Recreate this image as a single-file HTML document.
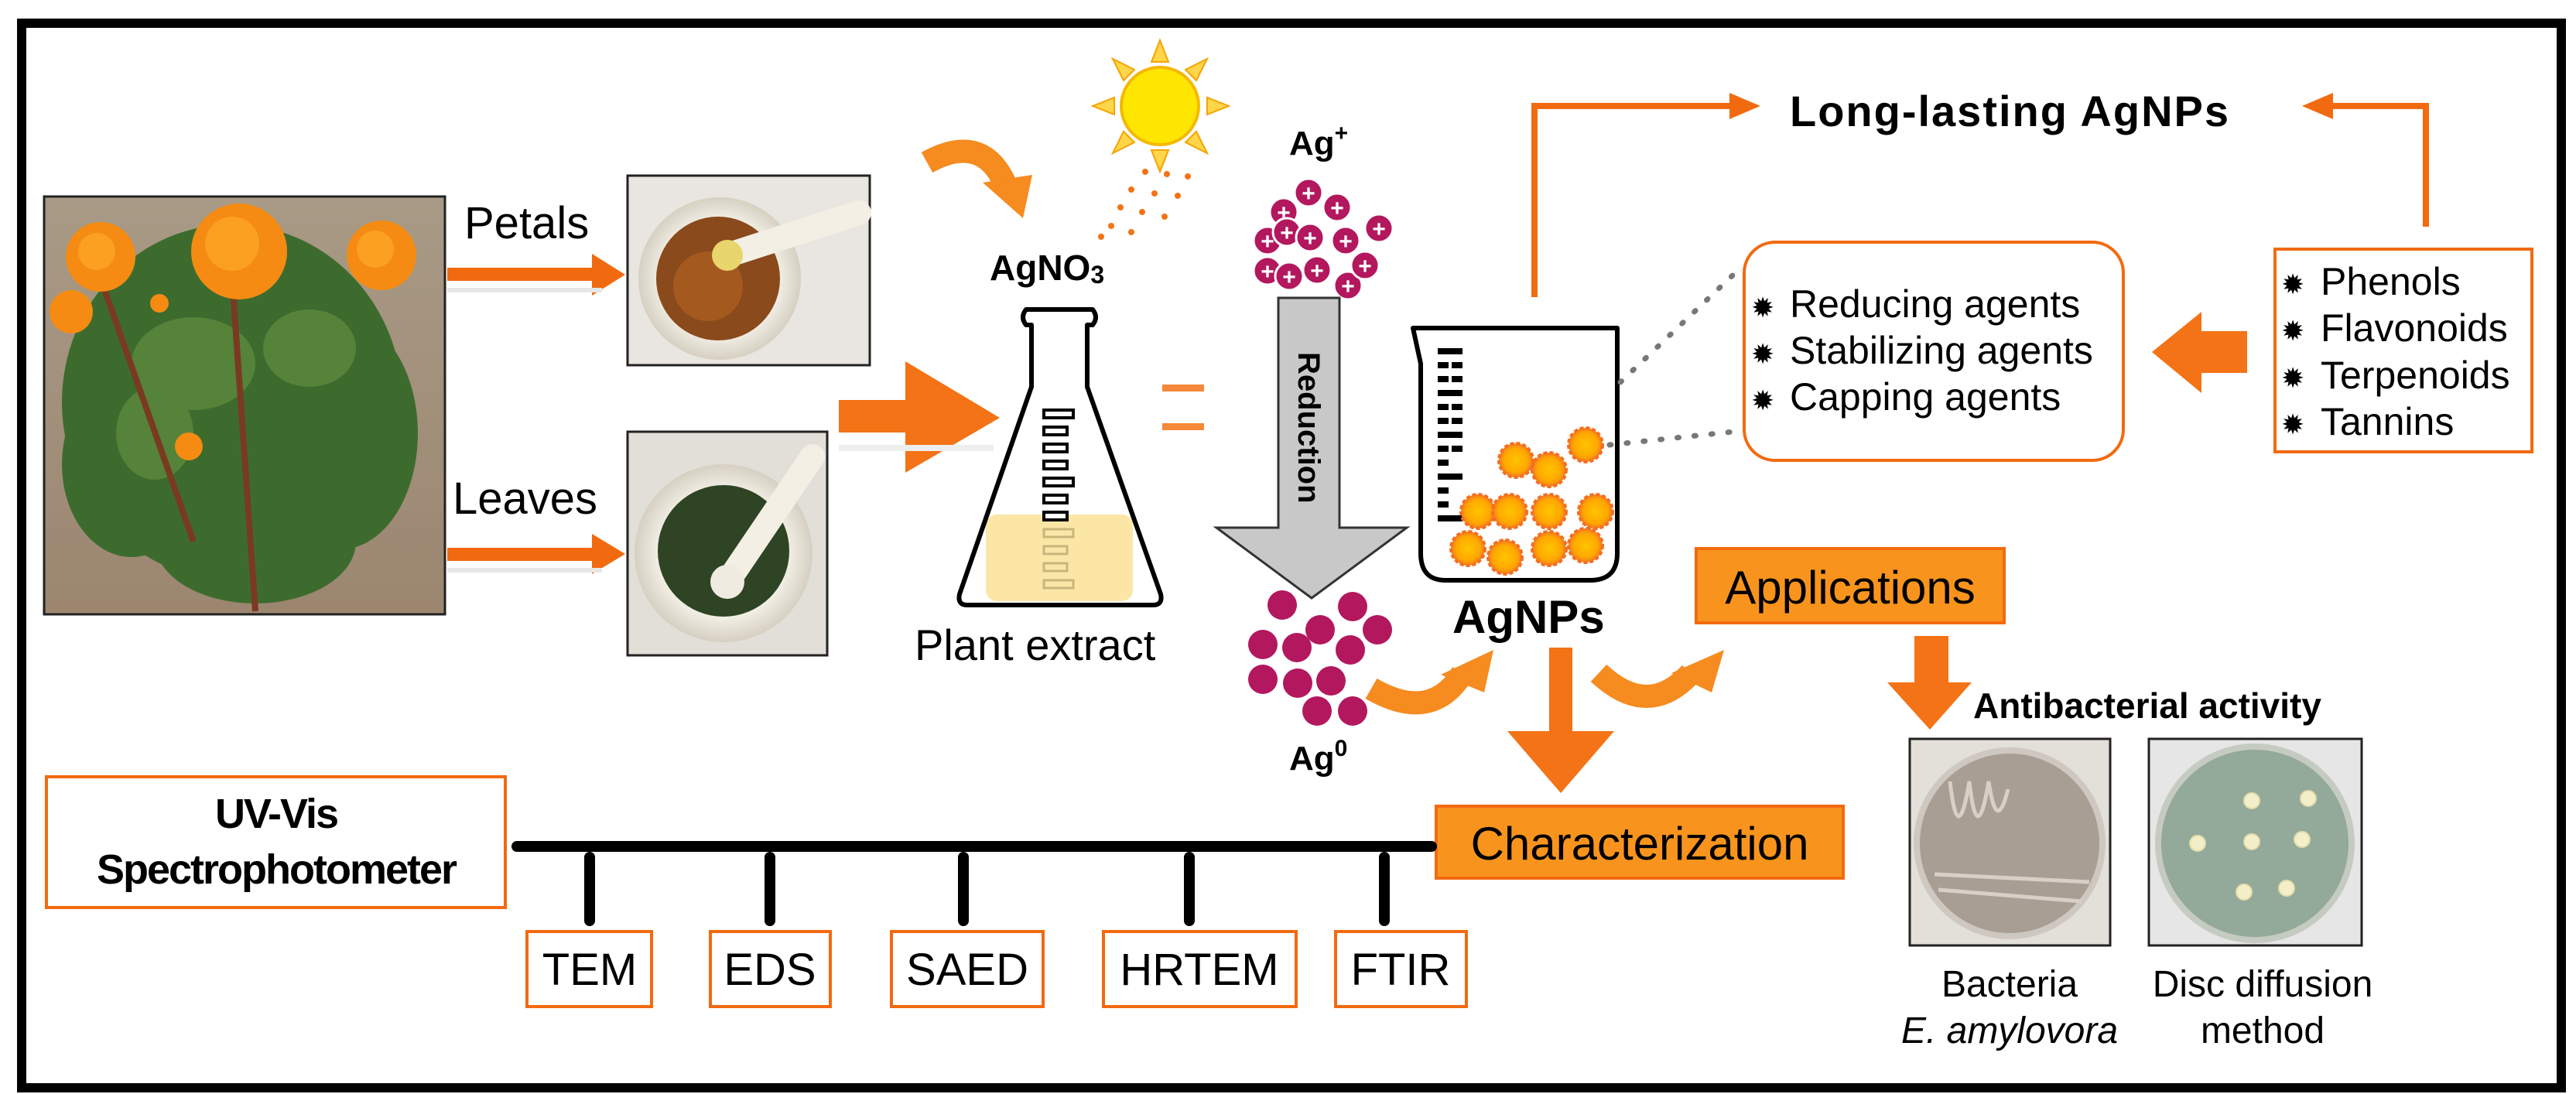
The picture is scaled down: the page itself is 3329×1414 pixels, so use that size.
<!DOCTYPE html>
<html><head><meta charset="utf-8"><style>
html,body{margin:0;padding:0;background:#fff;}
svg{display:block;}
text{font-family:"Liberation Sans",sans-serif;}
</style></head><body>
<svg width="3329" height="1414" viewBox="0 0 3329 1414" xmlns="http://www.w3.org/2000/svg">
<defs>
<radialGradient id="np" cx="50%" cy="50%" r="50%"><stop offset="0" stop-color="#ffc400"/><stop offset="0.7" stop-color="#ffa800"/><stop offset="1" stop-color="#f47a20"/></radialGradient>
<radialGradient id="bowl" cx="50%" cy="50%" r="50%"><stop offset="0.7" stop-color="#f4f1e8"/><stop offset="1" stop-color="#d6d0c2"/></radialGradient>
<linearGradient id="sand" x1="0" y1="0" x2="0" y2="1"><stop offset="0" stop-color="#a89a86"/><stop offset="1" stop-color="#9c8670"/></linearGradient>
</defs>
<rect x="28" y="30" width="3282" height="1376" fill="#fff" stroke="#000" stroke-width="12"/>

<!-- plant photo -->
<rect x="57" y="254" width="518" height="540" fill="url(#sand)" stroke="#222" stroke-width="3"/>
<g fill="#3d6b2e">
<ellipse cx="300" cy="520" rx="220" ry="230"/>
<ellipse cx="170" cy="600" rx="90" ry="120"/>
<ellipse cx="440" cy="560" rx="100" ry="150"/>
<ellipse cx="330" cy="700" rx="130" ry="80"/>
</g>
<g fill="#5c8a3c" opacity="0.8"><ellipse cx="250" cy="470" rx="80" ry="60"/><ellipse cx="400" cy="450" rx="60" ry="50"/><ellipse cx="200" cy="560" rx="50" ry="60"/></g>
<g stroke="#7a3a22" stroke-width="8"><line x1="300" y1="360" x2="330" y2="790"/><line x1="130" y1="360" x2="250" y2="700"/></g>
<g fill="#f58b12"><circle cx="309" cy="325" r="62"/><circle cx="130" cy="332" r="45"/><circle cx="493" cy="330" r="45"/><circle cx="92" cy="403" r="28"/><circle cx="244" cy="577" r="18"/><circle cx="206" cy="392" r="12"/></g>
<g fill="#fba020"><circle cx="300" cy="315" r="35"/><circle cx="485" cy="322" r="24"/><circle cx="125" cy="325" r="24"/></g>

<!-- Petals/Leaves -->
<text x="600" y="308" font-size="58">Petals</text>
<text x="585" y="664" font-size="58">Leaves</text>
<rect x="578" y="346" width="190" height="17" fill="#f26a10"/>
<polygon points="765,328 808,355 765,382" fill="#f26a10"/>
<rect x="578" y="708" width="190" height="17" fill="#f26a10"/>
<polygon points="765,690 808,716 765,742" fill="#f26a10"/>
<rect x="578" y="372" width="200" height="6" fill="#e6e6e6"/>
<rect x="578" y="734" width="200" height="6" fill="#e6e6e6"/>

<!-- mortar photos -->
<rect x="811" y="227" width="313" height="245" fill="#e9e6e1" stroke="#222" stroke-width="3"/>
<circle cx="930" cy="360" r="105" fill="url(#bowl)"/>
<circle cx="928" cy="360" r="80" fill="#8a4a1c"/>
<circle cx="915" cy="370" r="45" fill="#b5661f" opacity="0.6"/>
<line x1="940" y1="330" x2="1110" y2="275" stroke="#f3efe4" stroke-width="32" stroke-linecap="round"/>
<circle cx="940" cy="330" r="20" fill="#e8d56c"/>
<rect x="811" y="558" width="258" height="289" fill="#e2dfd8" stroke="#222" stroke-width="3"/>
<circle cx="935" cy="715" r="115" fill="url(#bowl)"/>
<circle cx="935" cy="712" r="85" fill="#2e4424"/>
<line x1="945" y1="745" x2="1050" y2="590" stroke="#f3efe4" stroke-width="32" stroke-linecap="round"/>
<circle cx="940" cy="752" r="22" fill="#efebe0"/>

<!-- big arrow -->
<rect x="1084" y="517" width="90" height="42" fill="#f47316"/>
<polygon points="1170,467 1292,540 1170,611" fill="#f47316"/>
<rect x="1084" y="575" width="200" height="8" fill="#eeeeee"/>

<!-- sun -->
<g fill="#ffd54a" stroke="#f5a400" stroke-width="2">
<polygon points="1499,52 1488,80 1510,80"/><polygon points="1499,222 1488,194 1510,194"/>
<polygon points="1412,137 1440,126 1440,148"/><polygon points="1588,137 1560,126 1560,148"/>
<polygon points="1438,76 1452,104 1466,90"/><polygon points="1560,76 1532,90 1546,104"/>
<polygon points="1438,198 1466,184 1452,170"/><polygon points="1560,198 1546,170 1532,184"/>
</g>
<circle cx="1499" cy="137" r="50" fill="#ffe600" stroke="#f5b800" stroke-width="4"/>
<g fill="#f47316">
<circle cx="1480" cy="222" r="4"/><circle cx="1508" cy="225" r="4"/><circle cx="1535" cy="228" r="4"/>
<circle cx="1462" cy="245" r="4"/><circle cx="1492" cy="250" r="4"/><circle cx="1522" cy="253" r="4"/>
<circle cx="1448" cy="268" r="4"/><circle cx="1476" cy="274" r="4"/><circle cx="1505" cy="280" r="4"/>
<circle cx="1436" cy="292" r="4"/><circle cx="1462" cy="300" r="4"/><circle cx="1423" cy="306" r="4"/>
</g>
<!-- curved arrow top -->
<path d="M1198,210 Q1270,170 1300,240" fill="none" stroke="#f68b1f" stroke-width="30"/>
<polygon points="1270,236 1334,226 1322,282" fill="#f68b1f"/>

<!-- flask -->
<text x="1279" y="362" font-size="46" font-weight="bold">AgNO<tspan font-size="32" dy="4">3</tspan></text>
<rect x="1274" y="665" width="190" height="112" rx="14" fill="#fbe6a6"/>
<path d="M1333,420 L1326,420 Q1318,410 1326,400 L1412,400 Q1420,410 1412,420 L1405,420 L1405,500 L1500,768 Q1503,782 1490,782 L1250,782 Q1237,782 1240,768 L1333,500 Z" fill="none" stroke="#000" stroke-width="6" stroke-linejoin="round"/>
<g fill="#fff" stroke="#000" stroke-width="4">
<rect x="1349" y="530" width="38" height="10"/><rect x="1349" y="552" width="30" height="10"/><rect x="1349" y="574" width="30" height="10"/><rect x="1349" y="596" width="30" height="10"/><rect x="1349" y="618" width="38" height="10"/><rect x="1349" y="640" width="30" height="10"/><rect x="1349" y="662" width="30" height="10"/>
</g>
<g fill="none" stroke="#c8b67a" stroke-width="3">
<rect x="1349" y="684" width="38" height="10"/><rect x="1349" y="706" width="30" height="10"/><rect x="1349" y="728" width="30" height="10"/><rect x="1349" y="750" width="38" height="10"/>
</g>
<text x="1182" y="853" font-size="56">Plant extract</text>
<rect x="1502" y="497" width="54" height="9" fill="#f47316" opacity="0.85"/>
<rect x="1502" y="547" width="54" height="9" fill="#f47316" opacity="0.85"/>

<!-- Ag+ -->
<text x="1666" y="200" font-size="44" font-weight="bold">Ag<tspan font-size="30" dy="-18">+</tspan></text>
<g fill="#b3175e" stroke="#fff" stroke-width="3">
<circle cx="1638" cy="311" r="18"/><circle cx="1659" cy="274" r="18"/><circle cx="1638" cy="350" r="18"/><circle cx="1691" cy="249" r="18"/><circle cx="1728" cy="268" r="18"/><circle cx="1663" cy="300" r="18"/><circle cx="1693" cy="307" r="18"/><circle cx="1739" cy="311" r="18"/><circle cx="1782" cy="295" r="18"/><circle cx="1666" cy="357" r="18"/><circle cx="1702" cy="349" r="18"/><circle cx="1742" cy="369" r="18"/><circle cx="1764" cy="343" r="18"/>
</g>
<g font-size="30" font-weight="bold" fill="#fff" text-anchor="middle">
<text x="1638" y="322">+</text><text x="1659" y="285">+</text><text x="1638" y="361">+</text><text x="1691" y="260">+</text><text x="1728" y="279">+</text><text x="1663" y="311">+</text><text x="1693" y="318">+</text><text x="1739" y="322">+</text><text x="1782" y="306">+</text><text x="1666" y="368">+</text><text x="1702" y="360">+</text><text x="1742" y="380">+</text><text x="1764" y="354">+</text>
</g>
<!-- reduction arrow -->
<path d="M1652,385 L1731,385 L1731,682 L1818,682 L1695,773 L1572,682 L1652,682 Z" fill="#c8c8c8" stroke="#333" stroke-width="3"/>
<text transform="translate(1678,455) rotate(90)" font-size="40" font-weight="bold">Reduction</text>
<!-- Ag0 -->
<g fill="#b3175e">
<circle cx="1657" cy="782" r="19"/><circle cx="1748" cy="784" r="19"/><circle cx="1706" cy="814" r="19"/><circle cx="1780" cy="814" r="19"/><circle cx="1632" cy="833" r="19"/><circle cx="1676" cy="837" r="19"/><circle cx="1745" cy="840" r="19"/><circle cx="1632" cy="878" r="19"/><circle cx="1677" cy="883" r="19"/><circle cx="1720" cy="880" r="19"/><circle cx="1702" cy="919" r="19"/><circle cx="1748" cy="919" r="19"/>
</g>
<text x="1666" y="995" font-size="44" font-weight="bold">Ag<tspan font-size="30" dy="-18">0</tspan></text>

<!-- beaker -->
<path d="M1826,424 L2090,424 L2090,715 Q2090,750 2055,750 L1868,750 Q1836,750 1836,715 L1836,470 Z" fill="#fff" stroke="#000" stroke-width="6" stroke-linejoin="round"/>
<g fill="#000">
<rect x="1858" y="450" width="32" height="8"/><rect x="1858" y="468" width="14" height="8"/><rect x="1876" y="468" width="14" height="8"/><rect x="1858" y="486" width="14" height="8"/><rect x="1876" y="486" width="14" height="8"/><rect x="1858" y="504" width="32" height="8"/><rect x="1858" y="522" width="14" height="8"/><rect x="1876" y="522" width="14" height="8"/><rect x="1858" y="540" width="14" height="8"/><rect x="1876" y="540" width="14" height="8"/><rect x="1858" y="558" width="32" height="8"/><rect x="1858" y="576" width="14" height="8"/><rect x="1876" y="576" width="14" height="8"/><rect x="1858" y="594" width="14" height="8"/><rect x="1858" y="612" width="32" height="8"/><rect x="1858" y="630" width="14" height="8"/><rect x="1858" y="648" width="14" height="8"/><rect x="1858" y="666" width="32" height="8"/>
</g>
<g fill="url(#np)" stroke="#f36f21" stroke-width="4" stroke-dasharray="5 3">
<circle cx="2049" cy="575" r="22"/><circle cx="1959" cy="595" r="22"/><circle cx="2002" cy="607" r="22"/><circle cx="1910" cy="661" r="22"/><circle cx="1951" cy="661" r="22"/><circle cx="2002" cy="661" r="22"/><circle cx="2062" cy="661" r="22"/><circle cx="1897" cy="709" r="22"/><circle cx="1945" cy="720" r="22"/><circle cx="2002" cy="709" r="22"/><circle cx="2049" cy="705" r="22"/>
</g>
<text x="1877" y="818" font-size="60" font-weight="bold">AgNPs</text>

<!-- dotted lines -->
<line x1="2094" y1="494" x2="2240" y2="355" stroke="#777" stroke-width="7" stroke-dasharray="2 20" stroke-linecap="round"/>
<line x1="2080" y1="575" x2="2240" y2="558" stroke="#777" stroke-width="7" stroke-dasharray="2 20" stroke-linecap="round"/>

<!-- long lasting -->
<polyline points="1983,384 1983,137 2240,137" fill="none" stroke="#f26a10" stroke-width="8"/>
<polygon points="2235,120 2275,137 2235,154" fill="#f26a10"/>
<text x="2313" y="163" font-size="56" font-weight="bold" letter-spacing="2">Long-lasting AgNPs</text>
<polyline points="3135,293 3135,137 3010,137" fill="none" stroke="#f26a10" stroke-width="8"/>
<polygon points="3015,120 2975,137 3015,154" fill="#f26a10"/>

<!-- agents box -->
<rect x="2254" y="313" width="490" height="282" rx="40" fill="#fff" stroke="#f26a10" stroke-width="4"/>
<g font-size="50"><text x="2263" y="410" font-size="36">✹</text><text x="2313" y="410">Reducing agents</text>
<text x="2263" y="470" font-size="36">✹</text><text x="2313" y="470">Stabilizing agents</text>
<text x="2263" y="530" font-size="36">✹</text><text x="2313" y="530">Capping agents</text></g>
<polygon points="2904,428 2845,428 2845,403 2781,455 2845,508 2845,482 2904,482" fill="#f47316"/>
<!-- phenols box -->
<rect x="2940" y="322" width="332" height="262" fill="#fff" stroke="#f26a10" stroke-width="4"/>
<g font-size="50"><text x="2948" y="380" font-size="36">✹</text><text x="2999" y="381">Phenols</text>
<text x="2948" y="440" font-size="36">✹</text><text x="2999" y="441">Flavonoids</text>
<text x="2948" y="501" font-size="36">✹</text><text x="2999" y="502">Terpenoids</text>
<text x="2948" y="561" font-size="36">✹</text><text x="2999" y="562">Tannins</text></g>

<!-- applications -->
<rect x="2192" y="709" width="398" height="96" fill="#f8941d" stroke="#f26a10" stroke-width="4"/>
<text x="2391" y="780" font-size="60" text-anchor="middle">Applications</text>
<rect x="1856" y="1042" width="526" height="93" fill="#f8941d" stroke="#f26a10" stroke-width="4"/>
<text x="2119" y="1111" font-size="60" text-anchor="middle">Characterization</text>

<!-- curved arrows -->
<path d="M1772,890 Q1850,935 1890,870" fill="none" stroke="#f68b1f" stroke-width="30"/>
<polygon points="1862,872 1918,895 1930,840" fill="#f68b1f"/>
<path d="M2066,870 Q2130,930 2185,870" fill="none" stroke="#f68b1f" stroke-width="30"/>
<polygon points="2160,870 2212,895 2228,840" fill="#f68b1f"/>
<!-- down arrows -->
<rect x="2002" y="837" width="30" height="110" fill="#f47316"/>
<polygon points="1948,945 2086,945 2017,1025" fill="#f47316"/>
<rect x="2474" y="822" width="44" height="62" fill="#f47316"/>
<polygon points="2439,882 2548,882 2494,943" fill="#f47316"/>
<text x="2550" y="928" font-size="46" font-weight="bold">Antibacterial activity</text>

<!-- petri dishes -->
<rect x="2468" y="955" width="259" height="267" fill="#e3e0da" stroke="#222" stroke-width="3"/>
<circle cx="2597" cy="1090" r="120" fill="#a89e94" stroke="#cfc8c0" stroke-width="8"/>
<g stroke="#d8d0c6" stroke-width="5" fill="none"><path d="M2520,1010 Q2530,1100 2545,1010 Q2555,1100 2570,1010 Q2580,1080 2595,1020"/><line x1="2500" y1="1130" x2="2700" y2="1140"/><line x1="2505" y1="1150" x2="2690" y2="1165"/></g>
<rect x="2777" y="955" width="275" height="267" fill="#e6e6e6" stroke="#222" stroke-width="3"/>
<circle cx="2914" cy="1090" r="125" fill="#93a99a" stroke="#c5cbc0" stroke-width="8"/>
<g fill="#f3efc8" stroke="#e2dcaa" stroke-width="2">
<circle cx="2910" cy="1035" r="10"/><circle cx="2983" cy="1032" r="10"/><circle cx="2840" cy="1090" r="10"/><circle cx="2910" cy="1088" r="10"/><circle cx="2975" cy="1085" r="10"/><circle cx="2900" cy="1153" r="10"/><circle cx="2955" cy="1148" r="10"/>
</g>
<g font-size="48" text-anchor="middle">
<text x="2597" y="1288">Bacteria</text>
<text x="2597" y="1348" font-style="italic">E. amylovora</text>
<text x="2924" y="1288">Disc diffusion</text>
<text x="2924" y="1348">method</text>
</g>

<!-- bottom -->
<rect x="60" y="1004" width="593" height="169" fill="#fff" stroke="#f26a10" stroke-width="4"/>
<g font-size="54" font-weight="bold" text-anchor="middle"><text x="357" y="1070" letter-spacing="-2">UV-Vis</text><text x="357" y="1142" letter-spacing="-2">Spectrophotometer</text></g>
<line x1="668" y1="1094" x2="1850" y2="1094" stroke="#000" stroke-width="14" stroke-linecap="round"/>
<g stroke="#000" stroke-width="14" stroke-linecap="round">
<line x1="762" y1="1108" x2="762" y2="1190"/><line x1="995" y1="1108" x2="995" y2="1190"/><line x1="1245" y1="1108" x2="1245" y2="1190"/><line x1="1537" y1="1108" x2="1537" y2="1190"/><line x1="1789" y1="1108" x2="1789" y2="1190"/>
</g>
<g fill="#fff" stroke="#f26a10" stroke-width="4">
<rect x="681" y="1204" width="161" height="97"/><rect x="918" y="1204" width="155" height="97"/><rect x="1152" y="1204" width="196" height="97"/><rect x="1426" y="1204" width="249" height="97"/><rect x="1726" y="1204" width="169" height="97"/>
</g>
<g font-size="58" text-anchor="middle">
<text x="762" y="1273">TEM</text><text x="995" y="1273">EDS</text><text x="1250" y="1273">SAED</text><text x="1550" y="1273">HRTEM</text><text x="1810" y="1273">FTIR</text>
</g>
</svg>
</body></html>
